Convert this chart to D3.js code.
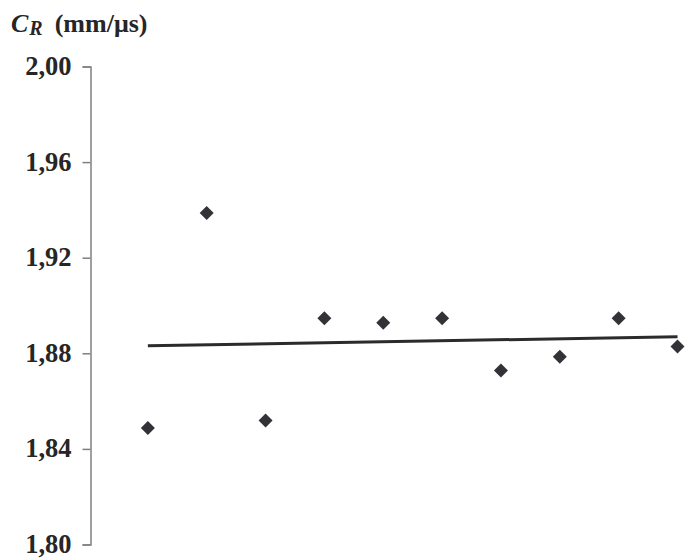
<!DOCTYPE html>
<html><head><meta charset="utf-8">
<script src="https://cdn.jsdelivr.net/npm/d3@7"></script>
<style>body{margin:0;background:#fff}svg{display:block}</style>
</head><body>
<script>
const samples = [1,2,3,4,5,6,7,8,9,10];
const crValues = [1.8487,1.9387,1.8519,1.8947,1.8928,1.8947,1.8728,1.8786,1.8947,1.8828];
const yTicks = [1.80,1.84,1.88,1.92,1.96,2.00];
const yTickLabels = ["1,80","1,84","1,88","1,92","1,96","2,00"];

const W=687,H=558;
const svg=d3.select("body").append("svg").attr("width",W).attr("height",H);
const x=d3.scaleLinear().domain([0,10]).range([89,677.5]);
const y=d3.scaleLinear().domain([1.80,2.00]).range([544.5,66.5]);

// axis
const ax=svg.append("g").attr("transform","translate(90.5,0)")
  .call(d3.axisLeft(y).tickValues(yTicks).tickSize(8).tickPadding(11)
    .tickFormat((d,i)=>yTickLabels[i]));
ax.select(".domain").attr("stroke","#808080").attr("stroke-width",1.5);
ax.selectAll(".tick line").attr("stroke","#808080").attr("stroke-width",1.5);
ax.selectAll(".tick text").attr("fill","#262626")
  .attr("font-family","'Liberation Serif','Times New Roman',serif")
  .attr("font-weight","bold").attr("font-size",26.5).attr("dy","0.3em");

// trend (least squares)
const mx=d3.mean(samples),my=d3.mean(crValues);
const slope=d3.sum(samples,(s,i)=>(s-mx)*(crValues[i]-my))/d3.sum(samples,s=>(s-mx)*(s-mx));
const icpt=my-slope*mx;
const ends=[samples[0],samples[samples.length-1]];
svg.append("path")
  .attr("d",d3.line().x(d=>x(d)).y(d=>y(icpt+slope*d))(ends))
  .attr("stroke","#2b2b2e").attr("stroke-width",3).attr("fill","none");

// points
svg.selectAll(".pt").data(samples).enter().append("path")
  .attr("d",d3.symbol(d3.symbolSquare,98)())
  .attr("transform",(d,i)=>`translate(${x(d)},${y(crValues[i])}) rotate(45)`)
  .attr("fill","#333337");

// title
const t=svg.append("text").attr("x",11).attr("y",31.5)
  .attr("font-family","'Liberation Serif','Times New Roman',serif")
  .attr("font-weight","bold").attr("font-size",26).attr("fill","#262626");
t.append("tspan").attr("font-style","italic").text("C");
t.append("tspan").attr("font-style","italic").attr("font-size",20).attr("dy",3.5).attr("dx",1).text("R");
t.append("tspan").attr("dy",-3.5).attr("dx",12).text("(mm/μs)");
</script>
</body></html>
